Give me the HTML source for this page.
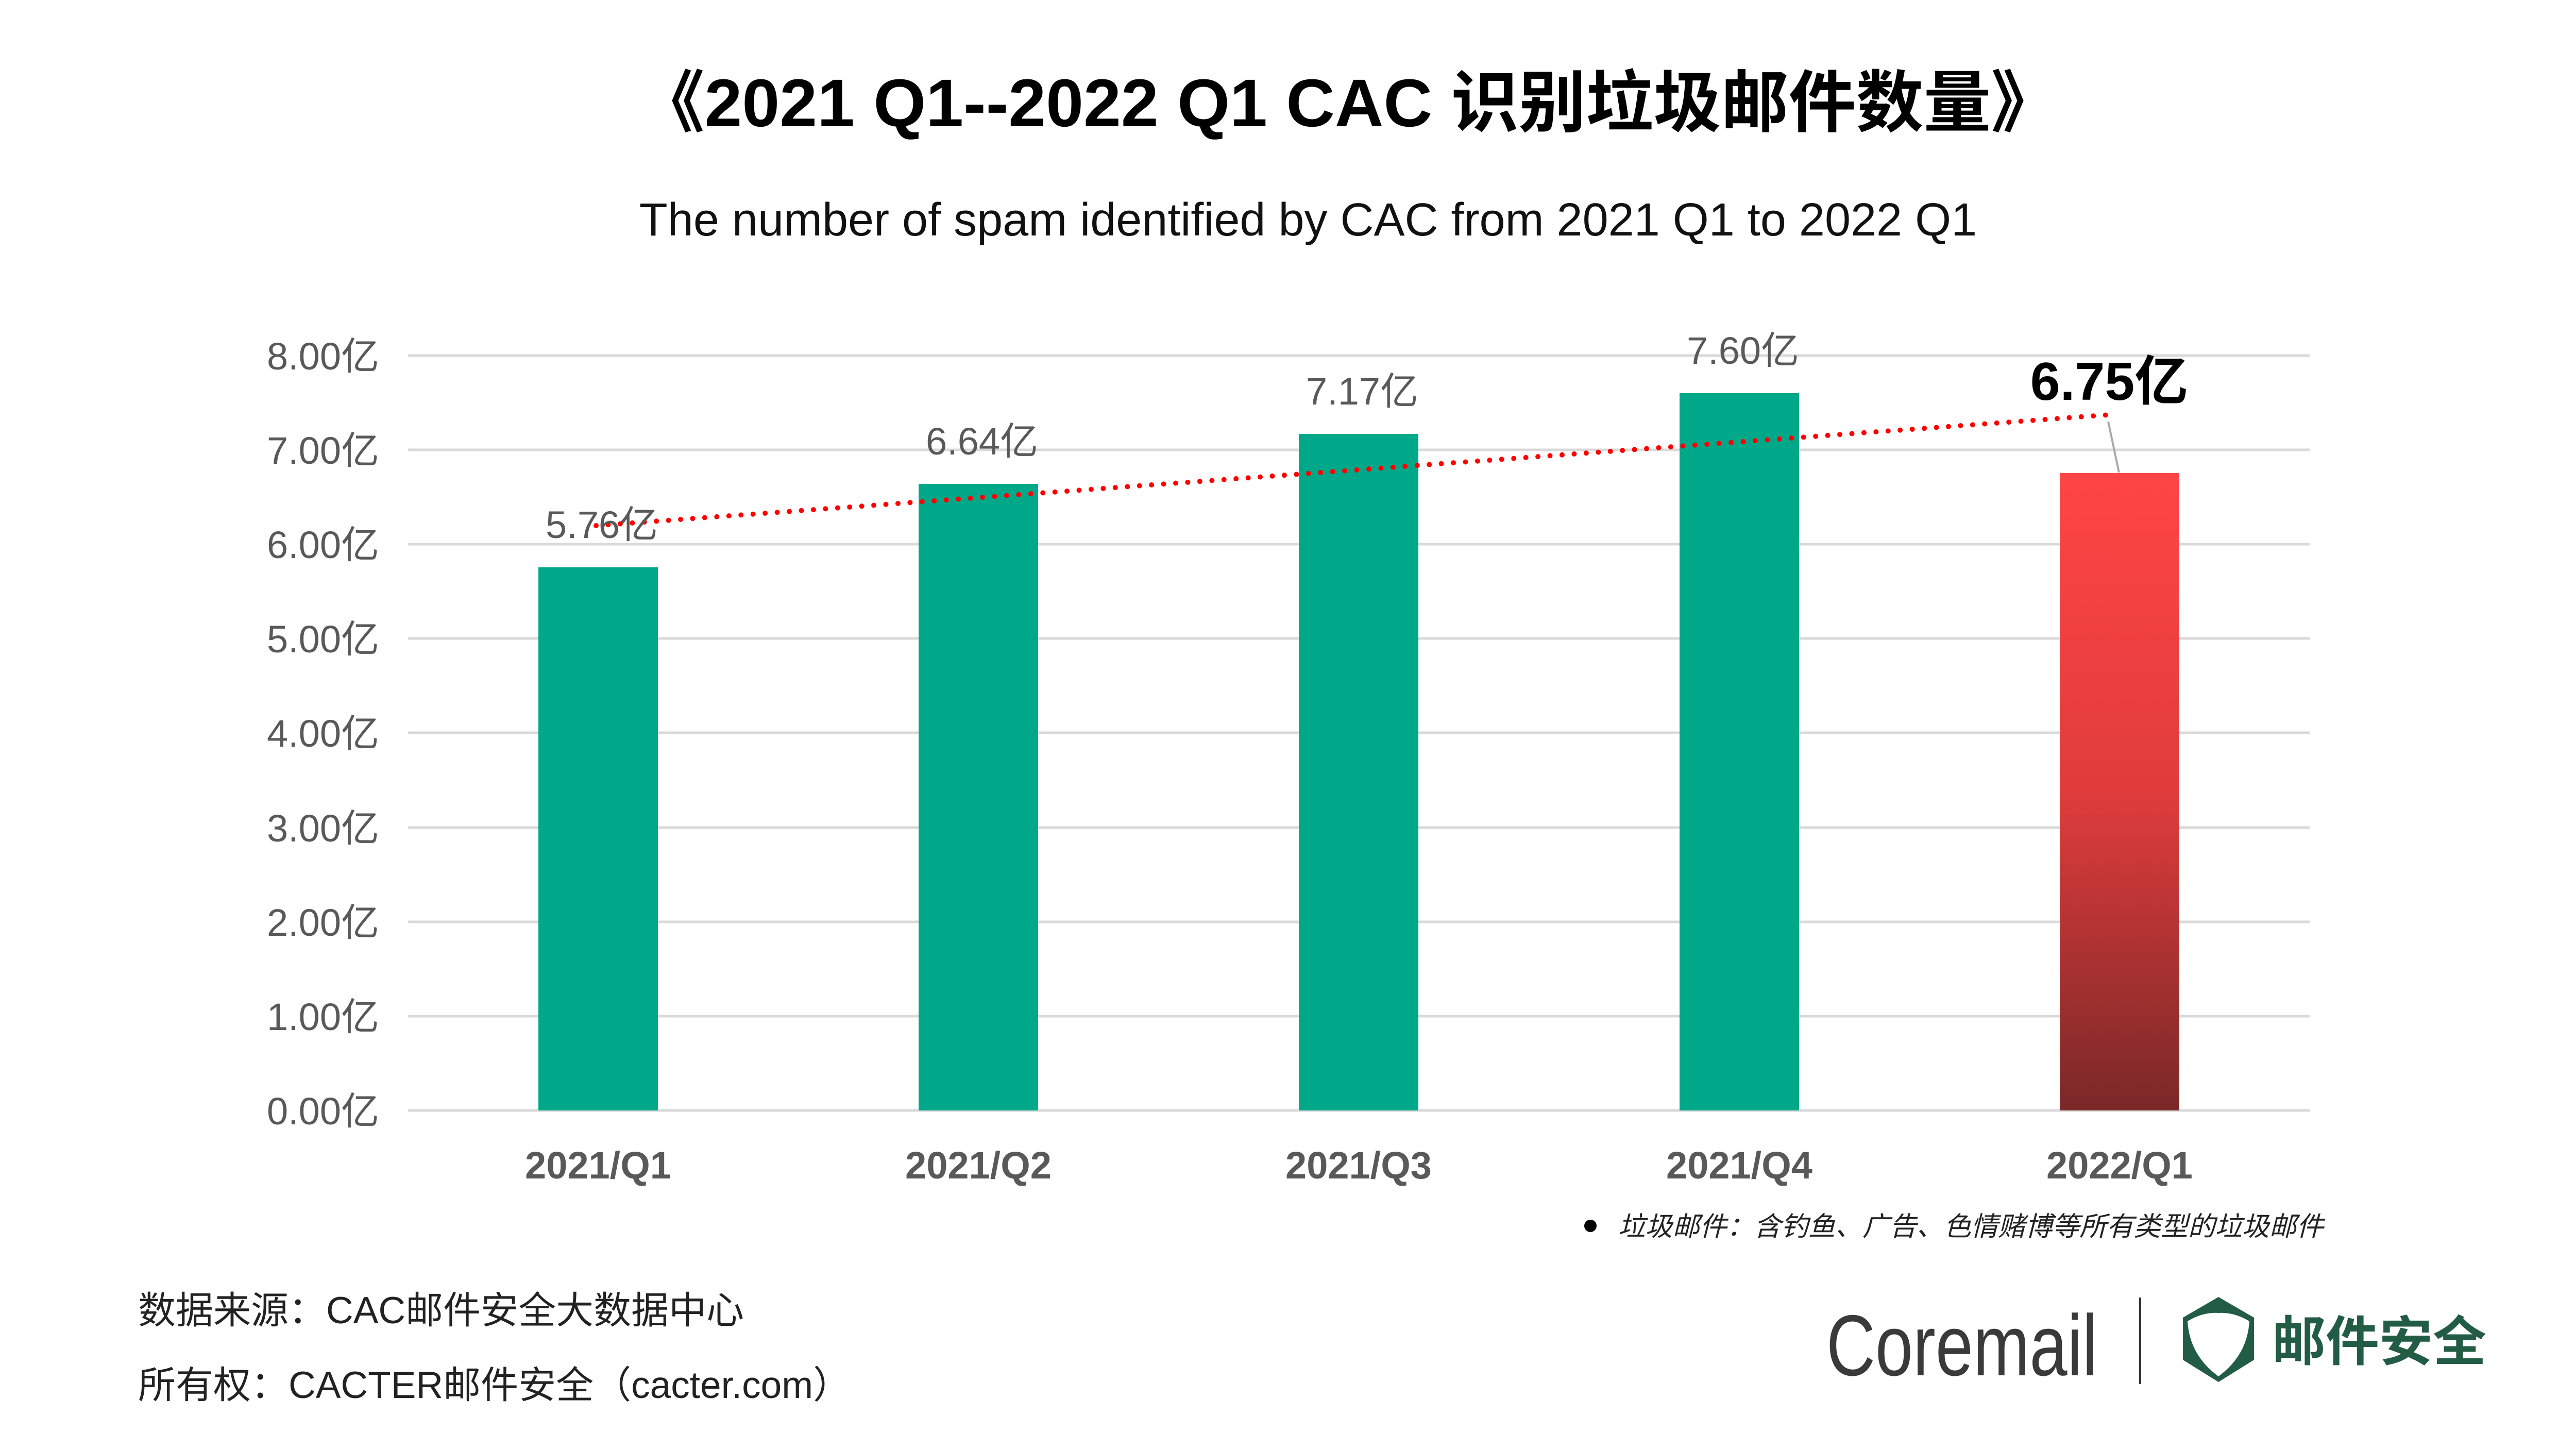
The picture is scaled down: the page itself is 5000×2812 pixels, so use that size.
<!DOCTYPE html>
<html><head><meta charset="utf-8"><style>
body{margin:0;width:5000px;height:2812px;background:#fff;overflow:hidden;position:relative;font-family:"Liberation Sans","Noto Sans CJK SC",sans-serif}
.a{position:absolute;white-space:nowrap}
</style></head><body>
<div class="a" style="left:0;width:5232px;text-align:center;top:93px;font-size:131px;font-weight:bold;color:#000">《2021 Q1--2022 Q1 CAC 识别垃圾邮件数量》</div>
<div class="a" style="left:0;width:5078px;text-align:center;top:376px;font-size:90px;color:#111">The number of spam identified by CAC from 2021 Q1 to 2022 Q1</div>
<svg class="a" style="left:0;top:0" width="5000" height="2812">
<defs><linearGradient id="g" x1="0" y1="0" x2="0" y2="1"><stop offset="0" stop-color="#ff4545"/><stop offset="0.5" stop-color="#e03c3c"/><stop offset="1" stop-color="#7a2828"/></linearGradient></defs>
<g stroke="#d9d9d9" stroke-width="5">
<line x1="792" x2="4483" y1="690" y2="690"/><line x1="792" x2="4483" y1="873" y2="873"/><line x1="792" x2="4483" y1="1056" y2="1056"/><line x1="792" x2="4483" y1="1239" y2="1239"/><line x1="792" x2="4483" y1="1422" y2="1422"/><line x1="792" x2="4483" y1="1606" y2="1606"/><line x1="792" x2="4483" y1="1789" y2="1789"/><line x1="792" x2="4483" y1="1972" y2="1972"/><line x1="792" x2="4483" y1="2155" y2="2155"/>
</g>
<g fill="#00a88a">
<rect x="1045" y="1101" width="232" height="1054"/>
<rect x="1783" y="939" width="232" height="1216"/>
<rect x="2521" y="842" width="232" height="1313"/>
<rect x="3260" y="763" width="232" height="1392"/>
</g>
<rect x="3998" y="918" width="232" height="1237" fill="url(#g)"/>
<line x1="4092" y1="818" x2="4113" y2="917" stroke="#aaa" stroke-width="4"/>
<line x1="1157" y1="1020" x2="4107" y2="804" stroke="#f00" stroke-width="10" stroke-dasharray="0 23.5" stroke-linecap="round"/>
<g font-size="74" fill="#595959" text-anchor="end">
<text x="736" y="717">8.00亿</text><text x="736" y="900">7.00亿</text><text x="736" y="1083">6.00亿</text><text x="736" y="1266">5.00亿</text><text x="736" y="1449">4.00亿</text><text x="736" y="1633">3.00亿</text><text x="736" y="1816">2.00亿</text><text x="736" y="1999">1.00亿</text><text x="736" y="2182">0.00亿</text>
</g>
<g font-size="74" fill="#595959" text-anchor="middle">
<text x="1168" y="1044">5.76亿</text><text x="1906" y="882">6.64亿</text><text x="2644" y="785">7.17亿</text><text x="3383" y="706">7.60亿</text>
</g>
<text x="4094" y="776" text-anchor="middle" font-size="104" font-weight="bold" fill="#000">6.75亿</text>
<g font-size="74" fill="#595959" font-weight="bold" text-anchor="middle">
<text x="1161" y="2287">2021/Q1</text><text x="1899" y="2287">2021/Q2</text><text x="2637" y="2287">2021/Q3</text><text x="3376" y="2287">2021/Q4</text><text x="4114" y="2287">2022/Q1</text>
</g>
<circle cx="3087" cy="2379" r="12" fill="#000"/>
<text x="3141" y="2398" font-size="52" font-style="italic" fill="#222" textLength="1369" lengthAdjust="spacingAndGlyphs">垃圾邮件：含钓鱼、广告、色情赌博等所有类型的垃圾邮件</text>
<text x="268" y="2568" font-size="73" fill="#222">数据来源：CAC邮件安全大数据中心</text>
<text x="268" y="2713" font-size="73" fill="#222">所有权：CACTER邮件安全（cacter.com）</text>
<text x="3545" y="2669" font-size="168" fill="#3a3a3a" textLength="526" lengthAdjust="spacingAndGlyphs">Coremail</text>
<line x1="4154" y1="2518" x2="4154" y2="2686" stroke="#333" stroke-width="4"/>
<path d="M4306 2517 L4375 2557 L4375 2639 L4306 2682 L4237 2639 L4237 2557 Z" fill="#235c45"/>
<path d="M4246 2564 Q4276 2546 4306 2548 Q4336 2546 4366 2564 Q4362 2630 4306 2671 Q4250 2630 4246 2564 Z" fill="#fff"/>
<text x="4410" y="2640" font-size="104" font-weight="bold" fill="#235c45" font-family="Noto Sans CJK SC,sans-serif">邮件安全</text>
</svg>
</body></html>
